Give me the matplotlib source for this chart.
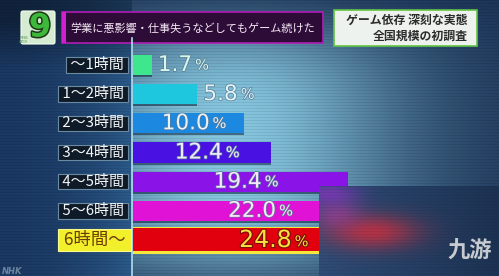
import numpy as np
import matplotlib
matplotlib.use("Agg")
import matplotlib.pyplot as plt
from matplotlib.patches import Rectangle, FancyBboxPatch
import matplotlib.patheffects as pe

# ---------------- data ----------------
categories = ["～1時間", "1～2時間", "2～3時間", "3～4時間", "4～5時間", "5～6時間", "6時間～"]
values = [1.7, 5.8, 10.0, 12.4, 19.4, 22.0, 24.8]
title_text = "学業に悪影響・仕事失うなどしてもゲーム続けた"
side_title = ["ゲーム依存 深刻な実態", "全国規模の初調査"]

bar_colors = ["#3ee68e", "#1ec6de", "#1c88e0", "#4a12e2", "#8a14e8", "#e012d6", "#e0000e"]
text_colors = ["#d8f8ec", "#e2f6fa", "#eaf2fc", "#f0e8ff", "#f6e6ff", "#fce6fa", "#f8e040"]
inside = [False, False, True, True, True, True, True]

JP = ["Noto Sans CJK JP", "DejaVu Sans"]

W, H = 499, 276
fig = plt.figure(figsize=(W / 100, H / 100), dpi=100)

# ---------------- background ----------------
bg = fig.add_axes([0, 0, 1, 1], zorder=0)
bg.set_xlim(0, W)
bg.set_ylim(H, 0)
bg.axis("off")

yy, xx = np.mgrid[0:H, 0:W] + 0.5


def hexc(h):
    h = h.lstrip("#")
    return np.array([int(h[i:i + 2], 16) for i in (0, 2, 4)]) / 255.0


dark = hexc("#1b3357")
light = hexc("#86c6de")
g = np.exp(-((xx - 230) / 175.0) ** 2)
v = np.exp(-((yy - 150) / 128.0) ** 4)
t = (g * v)[..., None]
img = dark + (light - dark) * t

lmask = xx < 132
la = hexc("#1a3862")
lb = hexc("#2b5a8a")
s = ((xx / 132.0) ** 2)[..., None]
left = la + (lb - la) * s
left = left * (0.62 + 0.38 * np.clip((yy - 20) / 50.0, 0, 1))[..., None]
img = np.where(lmask[..., None], left, img)
scan = (yy.astype(int) % 3 == 0)[..., None]
img = np.where(scan, img * 0.92, img)
bg.imshow(np.clip(img, 0, 1), extent=(0, W, H, 0), interpolation="nearest", aspect="auto")

# divider line
bg.plot([132.5, 132.5], [38, H], color="#b0dcee", lw=1.2)

# logo
bg.add_patch(FancyBboxPatch((21, 11), 34, 33, boxstyle="round,pad=0,rounding_size=2",
                            fc="#d6ecd2", ec="#f4fff0", lw=0.8))
bg.text(40, 28, "9", fontsize=23, fontweight="bold", color="#3cb83a", ha="center", va="center",
        path_effects=[pe.withStroke(linewidth=2.2, foreground="#203818")])
bg.text(28, 40, "NEWS\nWATCH", fontsize=1.8, color="#3c8c3c", ha="right", va="center",
        linespacing=0.9)

# title box
bg.add_patch(Rectangle((62, 12), 261, 31, fc="#2e0c38", ec="#b01cb6", lw=1.2))
bg.add_patch(Rectangle((62, 12), 4, 31, fc="#d020d0", ec="none"))
bg.text(193, 28, title_text, fontsize=8.0, color="#f6eaf6", ha="center", va="center",
        family=JP)

# side title box
bg.add_patch(Rectangle((334, 10), 143, 36, fc="#eef2ee", ec="#62c444", lw=1.2))
bg.text(468, 20, side_title[0], fontsize=8.6, color="#2c2c2c", ha="right", va="center",
        family=JP, fontweight="bold")
bg.text(468, 36, side_title[1], fontsize=8.6, color="#2c2c2c", ha="right", va="center",
        family=JP, fontweight="bold")

bg.text(2, 271, "NHK", fontsize=6, color="#8ea6bc", ha="left", va="center",
        fontweight="bold", style="italic", alpha=0.7)

# ---------------- bars ----------------
px_per = 11.1
row0, step = 65.0, 29.17
ax = fig.add_axes([133 / W, 0, (W - 133) / W, 1], zorder=1)
ax.patch.set_alpha(0)
ax.axis("off")
ax.set_xlim(0, (W - 133) / px_per)
ax.set_ylim((H - row0) / step, -row0 / step)

n = len(values)
ys = np.arange(n)
heights = [0.69] * (n - 1) + [0.80]

for i in range(n):
    h = heights[i]
    ax.barh(ys[i] + 0.07, values[i], height=h, color="#0a2238", alpha=0.55, zorder=1)
    if i == n - 1:
        ax.barh(ys[i] + 0.02, values[i], height=h + 0.12, color="#f4e83a", zorder=2)
        ax.barh(ys[i] - 0.02, values[i], height=h, color=bar_colors[i], zorder=3)
    else:
        ax.barh(ys[i], values[i], height=h, color=bar_colors[i], zorder=3)

for i in range(n):
    col = text_colors[i]
    if i == n - 1:
        eff = [pe.withStroke(linewidth=1.6, foreground="#7a1008")]
        fs = 17
    else:
        eff = [pe.withStroke(linewidth=1.0, foreground="#5a7c96")]
        fs = 15.5
    if inside[i]:
        num = ax.annotate(f"{values[i]:.1f}", xy=(values[i] / 2, ys[i]), xytext=(21, 0),
                          textcoords="offset pixels", ha="right", va="center",
                          fontsize=fs, color=col, zorder=5, path_effects=eff)
    else:
        num = ax.annotate(f"{values[i]:.1f}", xy=(values[i], ys[i]), xytext=(6, 0),
                          textcoords="offset pixels", ha="left", va="center",
                          fontsize=fs, color=col, zorder=5, path_effects=eff)
    ax.annotate("%", xy=(1, 0.12), xycoords=num, xytext=(3, 0), textcoords="offset pixels",
                ha="left", va="bottom", fontsize=10.5, color=col, zorder=5, path_effects=eff)

# category labels
for i in range(n):
    if i == n - 1:
        ax.annotate(" " + categories[i] + " ", xy=(0, ys[i]), xytext=(-4, 0),
                    textcoords="offset pixels",
                    ha="right", va="center", fontsize=12.5, color="#6a3a0c", family=JP,
                    bbox=dict(boxstyle="square,pad=0.1", fc="#f2f02a", ec="#fafa90", lw=0.8),
                    zorder=5)
    else:
        ax.annotate(" " + categories[i] + " ", xy=(0, ys[i]), xytext=(-6, 0),
                    textcoords="offset pixels",
                    ha="right", va="center", fontsize=10.8, color="#f4f6f8", family=JP,
                    bbox=dict(boxstyle="square,pad=0.05", fc="#0e1a28", ec="#6a8aa2", lw=0.8),
                    zorder=5)

# ---------------- overlay (blurred patch + watermark) ----------------
ov = fig.add_axes([0, 0, 1, 1], zorder=3)
ov.patch.set_alpha(0)
ov.set_xlim(0, W)
ov.set_ylim(H, 0)
ov.axis("off")
x0, y0 = 319, 186
oy, ox = np.mgrid[y0:H, x0:W] + 0.5
ca, cb = hexc("#2e4c76"), hexc("#1c3252")
sx = ((ox - x0) / (W - x0))[..., None]
oimg = ca + (cb - ca) * sx
blobs = [((372, 232), (45, 17), "#c83040", 0.85),
         ((336, 214), (24, 15), "#b83ca0", 0.55),
         ((330, 194), (28, 11), "#8a34c4", 0.7)]
for (cx, cy), (gx, gy), c, a in blobs:
    w = (a * np.exp(-((ox - cx) / gx) ** 2 - ((oy - cy) / gy) ** 2))[..., None]
    oimg = oimg * (1 - w) + hexc(c) * w
oimg = np.where((oy.astype(int) % 3 == 0)[..., None], oimg * 0.94, oimg)
ov.imshow(np.clip(oimg, 0, 1), extent=(x0, W, H, y0), interpolation="nearest", aspect="auto")
ov.text(470, 250, "九游", fontsize=16, color="#c6cad0", ha="center", va="center",
        family=JP, fontweight="bold", style="italic")
ov.set_xlim(0, W)
ov.set_ylim(H, 0)

fig.savefig("out.png", dpi=100)
